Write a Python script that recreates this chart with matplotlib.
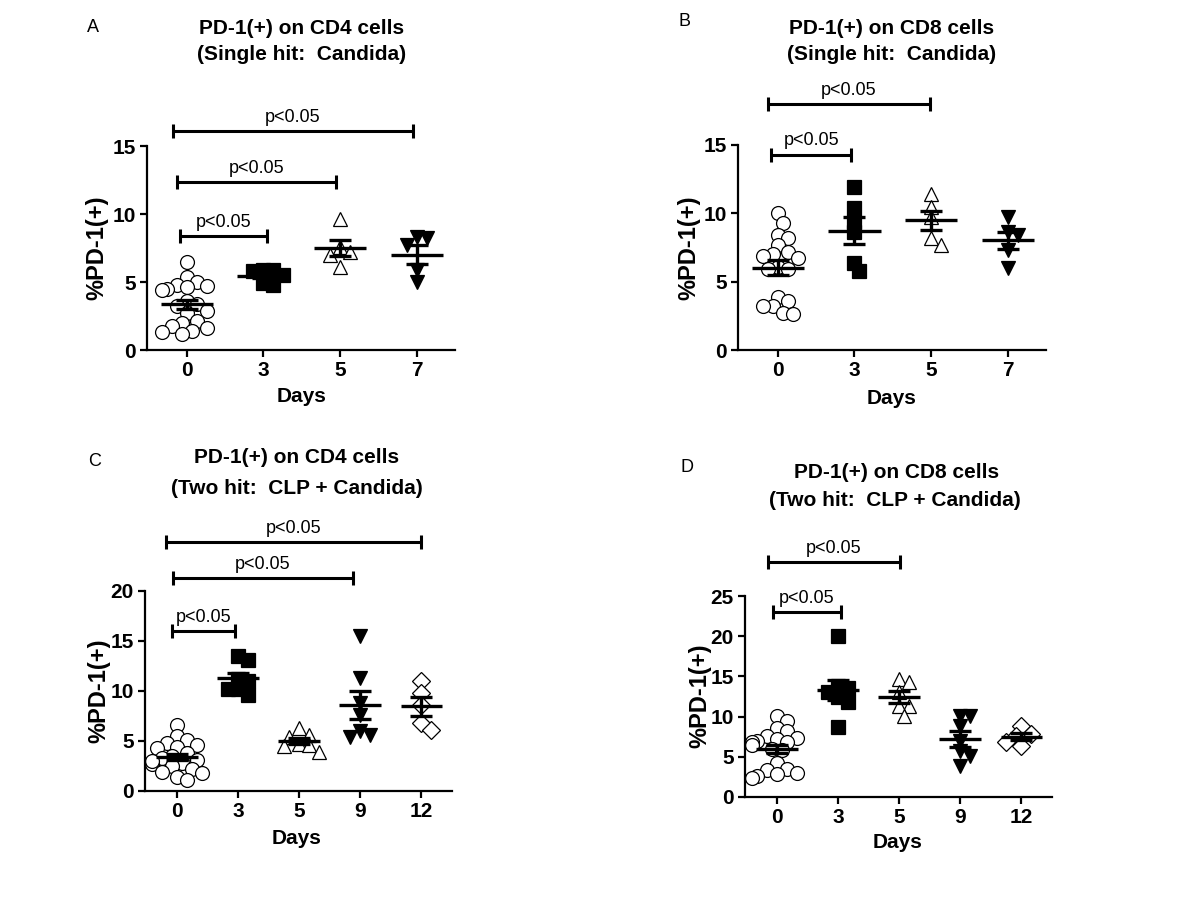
import numpy as np
import matplotlib.pyplot as plt

plt.rcParams['font.family'] = ['Liberation Sans', 'DejaVu Sans']

W, H = 1200, 900

# ---- data ----
days_single = ['0', '3', '5', '7']
days_two = ['0', '3', '5', '9', '12']

cd4_single_d0 = [6.5, 5.4, 5.0, 4.8, 4.6, 4.5, 4.4, 4.7, 3.6, 3.4, 3.2, 2.9, 2.7, 2.1, 2.0, 1.8, 1.6, 1.4, 1.3, 1.2]
cd4_single_d3 = [5.9, 5.9, 5.5, 5.8, 4.9, 4.8]
cd4_single_d5 = [9.6, 7.6, 7.2, 7.0, 6.1]
cd4_single_d7 = [8.3, 8.2, 7.7, 5.9, 5.0]

cd8_single_d0 = [10.0, 9.3, 8.45, 8.2, 7.7, 7.2, 7.0, 6.9, 6.75, 6.1, 5.9, 5.9, 3.9, 3.55, 3.2, 3.2, 2.7, 2.6]
cd8_single_d3 = [11.9, 10.4, 9.4, 8.6, 6.4, 5.75]
cd8_single_d5 = [11.4, 10.5, 9.7, 8.2, 7.7]
cd8_single_d7 = [9.7, 8.6, 8.45, 7.35, 6.0]

cd4_two_d0 = [6.6, 5.5, 5.1, 4.8, 4.6, 4.4, 4.3, 3.8, 3.5, 3.3, 3.1, 2.8, 2.7, 2.5, 2.2, 1.9, 1.8, 1.4, 1.1, 3.0]
cd4_two_d3 = [13.5, 13.1, 11.2, 11.0, 10.2, 10.2, 9.6]
cd4_two_d5 = [6.3, 5.6, 5.45, 4.7, 4.6, 4.5, 3.95]
cd4_two_d9 = [15.5, 11.3, 8.8, 7.6, 6.0, 5.45, 5.6]
cd4_two_d12 = [11.0, 9.8, 8.6, 6.8, 6.1]

cd8_two_d0 = [10.1, 9.5, 8.6, 8.2, 7.6, 7.4, 7.2, 7.0, 6.9, 6.8, 6.5, 6.0, 5.8, 4.2, 3.5, 3.4, 3.0, 2.8, 2.6, 2.4]
cd8_two_d3 = [20.0, 13.8, 13.5, 13.0, 12.5, 11.8, 8.7]
cd8_two_d5 = [14.7, 14.3, 13.0, 11.3, 11.3, 10.1]
cd8_two_d9 = [10.1, 10.1, 8.8, 6.95, 5.7, 5.1, 3.8]
cd8_two_d12 = [8.8, 7.8, 7.6, 6.9, 6.4]

# marker per day: (marker, filled, size)
day_markers = {'0': ('o', False, 10), '3': ('s', True, 9.5), '5': ('^', False, 10.5),
               '7': ('v', True, 10.5), '9': ('v', True, 10.5), '12': ('D', False, 9)}


def swarm(values, ppx, ppy, d=10.0):
    """simple beeswarm offsets (in x data units) so the symbols don't pile up"""
    order = np.argsort(values)[::-1]
    placed = []
    offs = np.zeros(len(values))
    step = d / 2.0
    for idx in order:
        v = values[idx]
        for k in [0, 1, -1, 2, -2, 3, -3, 4, -4, 5, -5]:
            x = k * step
            ok = True
            for (px, pv) in placed:
                if (x - px) ** 2 + ((v - pv) * ppy) ** 2 < d ** 2:
                    ok = False
                    break
            if ok:
                break
        placed.append((x, v))
        offs[idx] = x / ppx
    return offs


def fig_xy(px, py):
    return px / W, 1 - py / H


def draw_panel(fig, box, days, groups, yticks, brackets):
    left, right, y0, ytick_px, axes_top = box
    ymax = yticks[-1]
    scale = (y0 - ytick_px) / ymax
    ax = fig.add_axes([left / W, 1 - y0 / H, (right - left) / W, (y0 - axes_top) / H])
    n = len(days)
    ax.set_xlim(-0.52, n - 0.5)
    ax.set_ylim(0, (y0 - axes_top) / scale)
    ppx = (right - left) / (n - 0.5 + 0.52)

    for i, (day, vals) in enumerate(zip(days, groups)):
        vals = np.array(vals)
        mk, filled, ms = day_markers[day]
        offs = swarm(vals, ppx, scale)
        ax.plot(i + offs, vals, linestyle='none', marker=mk, ms=ms,
                mfc='black' if filled else 'white', mec='black', mew=0.9,
                clip_on=False, zorder=2)
        m = vals.mean()
        sem = vals.std(ddof=1) / np.sqrt(len(vals))
        ax.hlines(m, i - 0.34, i + 0.34, color='black', lw=2.4, zorder=3)
        ax.errorbar(i, m, yerr=sem, fmt='none', ecolor='black', elinewidth=2.4,
                    capsize=8, capthick=2.4, zorder=3)

    for (x1, x2, y) in brackets:
        ax.plot([x1, x2], [y, y], color='black', lw=2.2, marker='|', ms=10, mew=2.2,
                clip_on=False, solid_capstyle='butt')
        ax.annotate('p<0.05', xy=((x1 + x2) / 2, y), xytext=(0, 10),
                    textcoords='offset points', ha='center', va='center', fontsize=13)

    ax.set_xticks(range(n))
    ax.set_xticklabels(days)
    ax.set_yticks(yticks)
    for lab in ax.get_xticklabels() + ax.get_yticklabels():
        lab.set_fontweight('bold')
    ax.tick_params(axis='both', direction='out', length=5, width=1.6, labelsize=15, pad=3)
    ax.spines['top'].set_visible(False)
    ax.spines['right'].set_visible(False)
    ax.spines['left'].set_bounds(0, ymax)
    ax.spines['left'].set_linewidth(1.6)
    ax.spines['bottom'].set_linewidth(1.6)
    ax.patch.set_visible(False)
    return ax


fig = plt.figure(figsize=(12, 9), dpi=100)

panels = [
    dict(letter='A', letter_xy=(93, 28),
         title=['PD-1(+) on CD4 cells', '(Single hit:  Candida)'], title_xy=[(302, 28), (302, 55)],
         box=(147, 455, 350, 146, 100), days=days_single,
         groups=[cd4_single_d0, cd4_single_d3, cd4_single_d5, cd4_single_d7],
         yticks=[0, 5, 10, 15],
         brackets=[(-0.18, 2.95, 16.1), (-0.13, 1.95, 12.35), (-0.09, 1.04, 8.35)],
         xlabel_xy=(302, 397), ylabel_xy=(97, 248)),
    dict(letter='B', letter_xy=(685, 22),
         title=['PD-1(+) on CD8 cells', '(Single hit:  Candida)'], title_xy=[(892, 28), (892, 55)],
         box=(738, 1046, 350, 145, 100), days=days_single,
         groups=[cd8_single_d0, cd8_single_d3, cd8_single_d5, cd8_single_d7],
         yticks=[0, 5, 10, 15],
         brackets=[(-0.13, 1.98, 18.0), (-0.09, 0.96, 14.3)],
         xlabel_xy=(892, 398), ylabel_xy=(689, 248)),
    dict(letter='C', letter_xy=(95, 462),
         title=['PD-1(+) on CD4 cells', '(Two hit:  CLP + Candida)'], title_xy=[(297, 458), (297, 488)],
         box=(145, 452, 791, 591, 520), days=days_two,
         groups=[cd4_two_d0, cd4_two_d3, cd4_two_d5, cd4_two_d9, cd4_two_d12],
         yticks=[0, 5, 10, 15, 20],
         brackets=[(-0.18, 4.0, 24.9), (-0.07, 2.88, 21.3), (-0.08, 0.95, 16.0)],
         xlabel_xy=(297, 838), ylabel_xy=(99, 691)),
    dict(letter='D', letter_xy=(687, 468),
         title=['PD-1(+) on CD8 cells', '(Two hit:  CLP + Candida)'], title_xy=[(897, 472), (895, 500)],
         box=(745, 1052, 797, 596, 535), days=days_two,
         groups=[cd8_two_d0, cd8_two_d3, cd8_two_d5, cd8_two_d9, cd8_two_d12],
         yticks=[0, 5, 10, 15, 20, 25],
         brackets=[(-0.15, 2.02, 29.2), (-0.07, 1.05, 23.0)],
         xlabel_xy=(898, 843), ylabel_xy=(700, 696)),
]

for p in panels:
    draw_panel(fig, p['box'], p['days'], p['groups'], p['yticks'], p['brackets'])
    fig.text(*fig_xy(*p['letter_xy']), p['letter'], fontsize=13, ha='center', va='center')
    for line, xy in zip(p['title'], p['title_xy']):
        fig.text(*fig_xy(*xy), line, fontsize=15, fontweight='bold', ha='center', va='center')
    fig.text(*fig_xy(*p['xlabel_xy']), 'Days', fontsize=15, fontweight='bold', ha='center', va='center')
    fig.text(*fig_xy(*p['ylabel_xy']), '%PD-1(+)', fontsize=17, fontweight='bold',
             ha='center', va='center', rotation=90)

fig.savefig('out.png', dpi=100, facecolor='white')
